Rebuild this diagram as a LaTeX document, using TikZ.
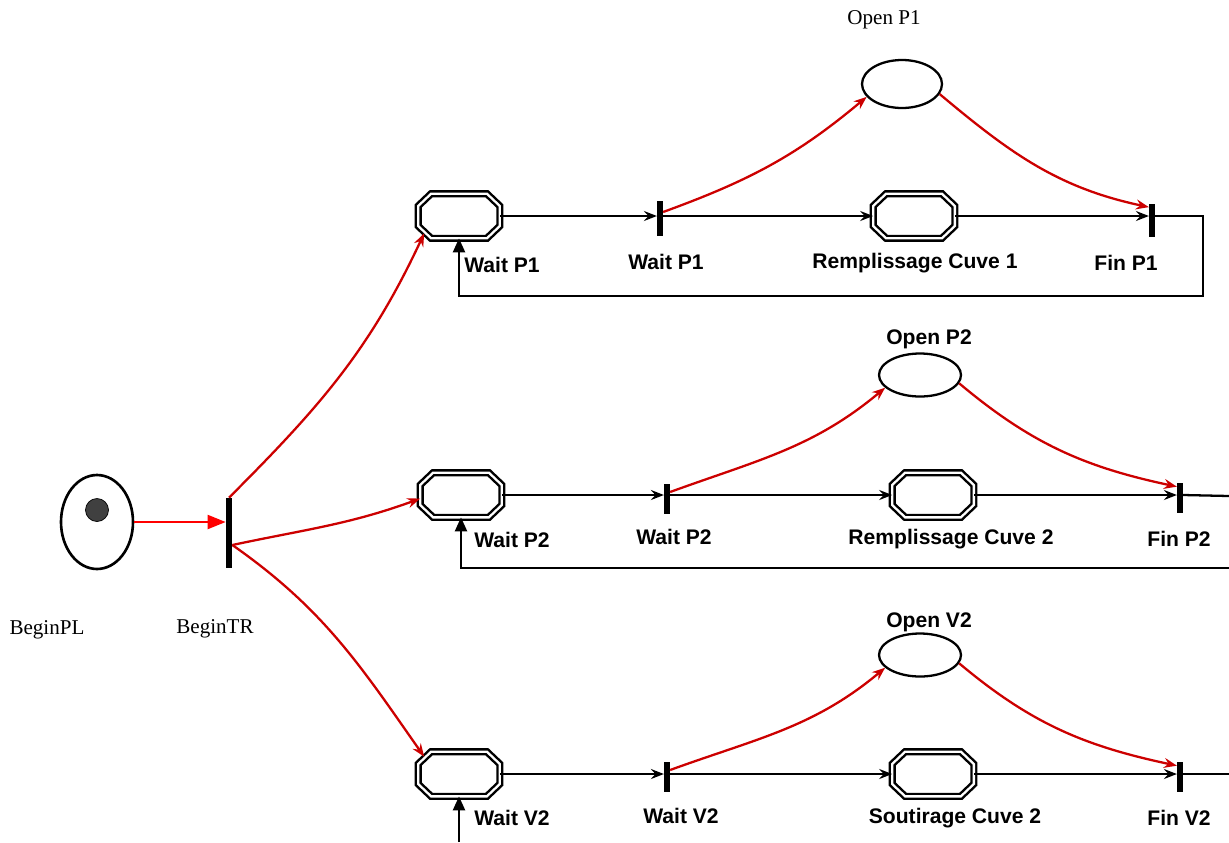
\documentclass[tikz,border=0pt]{standalone}
\usepackage{fontspec}
\setmainfont{Liberation Serif}
\setsansfont{Liberation Sans}
\usepackage{tikz}
\usetikzlibrary{calc,arrows.meta,positioning,shapes.geometric}
\definecolor{arcred}{RGB}{204,0,0}

\begin{document}
\begin{tikzpicture}[
  x=0.02cm, y=0.02cm,
  place/.style={rectangle, minimum width=1.62cm, minimum height=0.88cm, inner sep=0},
  dbl/.style={double, line width=1.4pt, double distance=1.3pt, line join=miter},
  trans/.style={fill=black, minimum width=0.11cm, minimum height=0.6cm, inner sep=0},
  res/.style={ellipse, draw, line width=1.3pt, minimum width=1.64cm, minimum height=0.86cm, inner sep=0},
  lbl/.style={font=\sffamily\bfseries\fontsize{12}{14}\selectfont, inner sep=0},
  slbl/.style={font=\fontsize{12}{14}\selectfont, inner sep=0},
  arr/.style={-{Stealth[length=0.26cm,width=0.2cm,inset=0.09cm]}, line width=1.3pt},
  rarr/.style={arr, arcred},
  fb/.style={-{Triangle[length=0.28cm,width=0.24cm]}, line width=1.3pt}
]
\useasboundingbox (0,0) rectangle (1229,-842);
% start
\node[res, line width=1.5pt, minimum width=1.44cm, minimum height=1.88cm] (bpl) at (97,-522) {};
\node[circle, fill=black!75, draw=black, minimum size=0.46cm, inner sep=0] (tok) at (97,-510) {};
\node[trans, minimum width=0.12cm, minimum height=1.4cm] (bt) at (229,-533) {};
\node[slbl] (lbpl) at (47,-630) {BeginPL};
\node[slbl] (lbt) at (215,-629) {BeginTR};
\draw[-{Triangle[length=0.36cm,width=0.28cm]}, red, line width=1.2pt] (bpl.east) -- (bpl.east -| bt.west);
% row P1
\node[place] (wp1) at (459,-216) {};
\node[trans, minimum height=0.7cm] (tw1) at (660,-218) {};
\node[place] (rc1) at (914,-216) {};
\node[trans, minimum height=0.66cm] (fp1) at (1152,-220) {};
\node[res, minimum width=1.6cm, minimum height=0.96cm] (op1) at (902,-84) {};
\node[lbl] (lwp1) at (502,-265) {Wait P1};
\node[lbl] (ltw1) at (666,-262) {Wait P1};
\node[lbl] (lrc1) at (915,-263) {Remplissage Cuve 1};
\node[lbl] (lfp1) at (1126,-263) {Fin P1};
\node[slbl] (lop1) at (884,-20) {Open P1};
% row P2
\node[place] (wp2) at (461,-495) {};
\node[trans] (tw2) at (667,-499) {};
\node[place] (rc2) at (933,-495) {};
\node[trans] (fp2) at (1180,-498) {};
\node[res] (op2) at (920,-375) {};
\node[lbl] (lwp2) at (512,-540) {Wait P2};
\node[lbl] (ltw2) at (674,-537) {Wait P2};
\node[lbl] (lrc2) at (951,-539) {Remplissage Cuve 2};
\node[lbl] (lfp2) at (1179,-539) {Fin P2};
\node[lbl] (lop2) at (929,-339) {Open P2};
% row V2
\node[place] (wv2) at (459,-774) {};
\node[trans] (tv2) at (667,-777) {};
\node[place] (sc2) at (933,-774) {};
\node[trans] (fv2) at (1180,-777) {};
\node[res] (ov2) at (920,-655) {};
\node[lbl] (lwv2) at (512,-818) {Wait V2};
\node[lbl] (ltv2) at (681,-816) {Wait V2};
\node[lbl] (lsc2) at (955,-818) {Soutirage Cuve 2};
\node[lbl] (lfv2) at (1179,-818) {Fin V2};
\node[lbl] (lov2) at (929,-622) {Open V2};
% octagon outlines of the places
\foreach \p in {wp1,rc1,wp2,rc2,wv2,sc2}
  \draw[dbl] ($(\p.west)+(0,10)$) -- ($(\p.north west)+(13,0)$) -- ($(\p.north east)+(-13,0)$)
    -- ($(\p.east)+(0,10)$) -- ($(\p.east)+(0,-10)$) -- ($(\p.south east)+(-13,0)$)
    -- ($(\p.south west)+(13,0)$) -- ($(\p.west)+(0,-10)$) -- cycle;
% start arcs
\draw[rarr] (bt.north) to[out=45,in=245] ($(wp1.south west)+(6,5)$);
\draw[rarr] ([yshift=-0.24cm]bt.east) to[out=12,in=200] (wp2.185);
\draw[rarr] ([yshift=-0.24cm]bt.east) to[out=-35,in=125] ($(wv2.north west)+(6,-5)$);
% chains
\draw[arr] (wp1.east) -- (wp1.east -| tw1.west);
\draw[arr] (tw1.east |- rc1.west) -- (rc1.west);
\draw[arr] (rc1.east) -- (rc1.east -| fp1.west);
\draw[arr] (wp2.east) -- (wp2.east -| tw2.west);
\draw[arr] (tw2.east |- rc2.west) -- (rc2.west);
\draw[arr] (rc2.east) -- (rc2.east -| fp2.west);
\draw[arr] (wv2.east) -- (wv2.east -| tv2.west);
\draw[arr] (tv2.east |- sc2.west) -- (sc2.west);
\draw[arr] (sc2.east) -- (sc2.east -| fv2.west);
% resources
\draw[rarr] ([yshift=0.12cm]tw1.east) to[out=20,in=220] (op1.200);
\draw[rarr] (op1.-15) to[out=-40,in=168] ([yshift=-0.08cm]fp1.north west);
\draw[rarr] ([yshift=0.14cm]tw2.east) to[out=20,in=220] (op2.200);
\draw[rarr] (op2.-12) to[out=-40,in=168] ([yshift=-0.08cm]fp2.north west);
\draw[rarr] ([yshift=0.14cm]tv2.east) to[out=20,in=220] (ov2.200);
\draw[rarr] (ov2.-12) to[out=-40,in=168] ([yshift=-0.08cm]fv2.north west);
% loops back
\coordinate (r1) at (1203,-296);
\coordinate (e2) at (1229,-496);
\coordinate (r2) at (1229,-568);
\coordinate (e3) at (1229,-774);
\coordinate (b3) at (459,-842);
\draw[fb] (fp1.east |- rc1.east) -| (r1) -| (wp1.south);
\draw[line width=1.3pt] (fp2.east |- rc2.east) -- (e2);
\draw[fb] (r2) -| (wp2.south);
\draw[line width=1.3pt] (fv2.east |- sc2.east) -- (e3);
\draw[fb] (b3) -- (wv2.south);
\end{tikzpicture}
\end{document}
